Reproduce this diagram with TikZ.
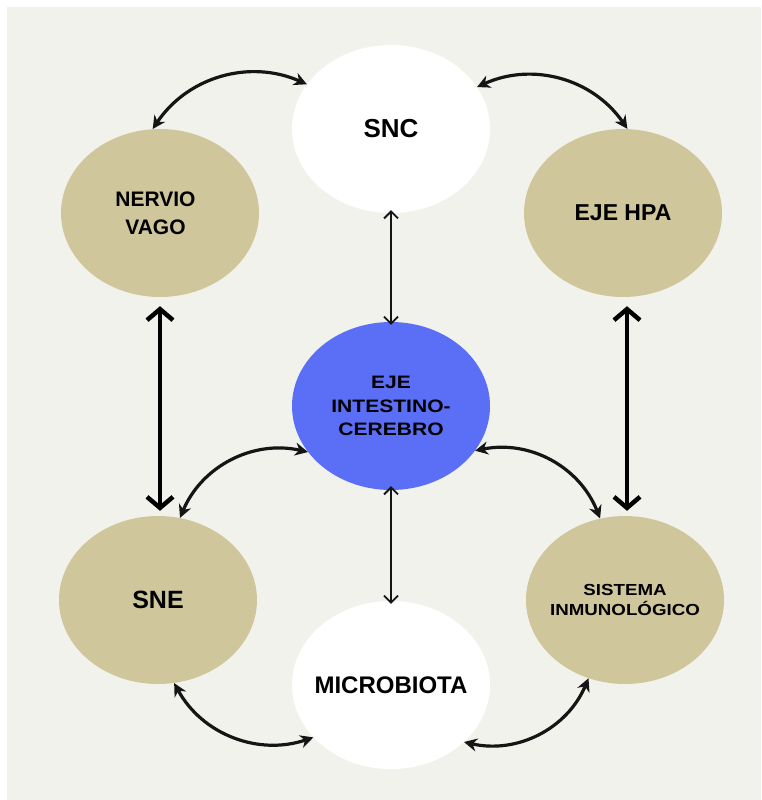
\documentclass[tikz,border=0pt]{standalone}
\usepackage{fontspec}
\setmainfont{Liberation Sans}
\newfontfamily\widesans[FakeStretch=1.17]{Liberation Sans}
\usetikzlibrary{shapes.geometric,arrows.meta}
\definecolor{panel}{HTML}{F2F2ED}
\definecolor{tan}{HTML}{CFC79B}
\definecolor{blueblob}{HTML}{5A6EF6}
\definecolor{ink}{HTML}{151515}
\tikzset{
  blob/.style={ellipse, minimum width=198pt, minimum height=168pt, inner sep=0pt, align=center, text=black},
  fs/.style 2 args={font=\bfseries\fontsize{#1}{#2}\selectfont},
  wfs/.style 2 args={font=\widesans\bfseries\fontsize{#1}{#2}\selectfont},
  curv/.style={draw=ink, line width=3.2pt, {Stealth[length=13pt,width=13pt]}-{Stealth[length=13pt,width=13pt]}},
  thinv/.style={draw=ink, line width=1.8pt, {Straight Barb[length=7pt,width=14pt]}-{Straight Barb[length=7pt,width=14pt]}},
  thickv/.style={draw=black, line width=4.5pt, {Straight Barb[length=11pt,width=26pt]}-{Straight Barb[length=11pt,width=26pt]}}
}
\begin{document}
\begin{tikzpicture}[x=1pt,y=1pt]
\useasboundingbox (0,0) rectangle (761,-800);
\fill[white] (0,0) rectangle (761,-800);
\fill[panel] (7,-7) rectangle (761,-800);

\node[blob, fill=white, fs={26}{28}] (snc) at (391,-129) {\makebox[0pt]{SNC}};
\node[blob, fill=tan, fs={21}{28}] (nv) at (160,-213) {\hspace*{-9pt}NERVIO\\\hspace*{-9pt}VAGO};
\node[blob, fill=tan, fs={23}{28}] (hpa) at (623,-213) {\makebox[0pt]{EJE HPA}};
\node[blob, fill=blueblob, wfs={18}{23.5}] (eic) at (391,-406) {\makebox[0pt]{EJE}\\\makebox[0pt]{INTESTINO-}\\\makebox[0pt]{CEREBRO}};
\node[blob, fill=tan, fs={25}{28}] (sne) at (158,-600) {\makebox[0pt]{SNE}};
\node[blob, fill=tan, wfs={16}{20.5}] (si) at (625,-600) {\makebox[0pt]{SISTEMA}\\\makebox[0pt]{INMUNOLÓGICO}};
\node[blob, fill=white, fs={24}{28}] (mic) at (391,-685) {\makebox[0pt]{MICROBIOTA}};

\draw[curv] (nv.95) to[bend left=40] (snc.152);
\draw[curv] (snc.26) to[bend left=40] (hpa.87);
\draw[curv] (sne.75) to[bend left=40] (eic.209);
\draw[curv] (eic.332) to[bend left=40] (si.107);
\draw[curv] (sne.281) to[bend right=40] (mic.214);
\draw[curv] (mic.322) to[bend right=40] (si.245);

\draw[thinv, shorten <=-3pt, shorten >=-3pt] (snc.south) -- (eic.north);
\draw[thinv, shorten <=-4pt, shorten >=-3pt] (eic.south) -- (mic.north);
\draw[thickv, shorten <=9pt, shorten >=5pt] (nv.south) -- (nv.south |- sne.north);
\draw[thickv, shorten <=9pt, shorten >=5pt] ([xshift=4pt]hpa.south) -- ([xshift=4pt]hpa.south |- si.north);
\end{tikzpicture}
\end{document}
